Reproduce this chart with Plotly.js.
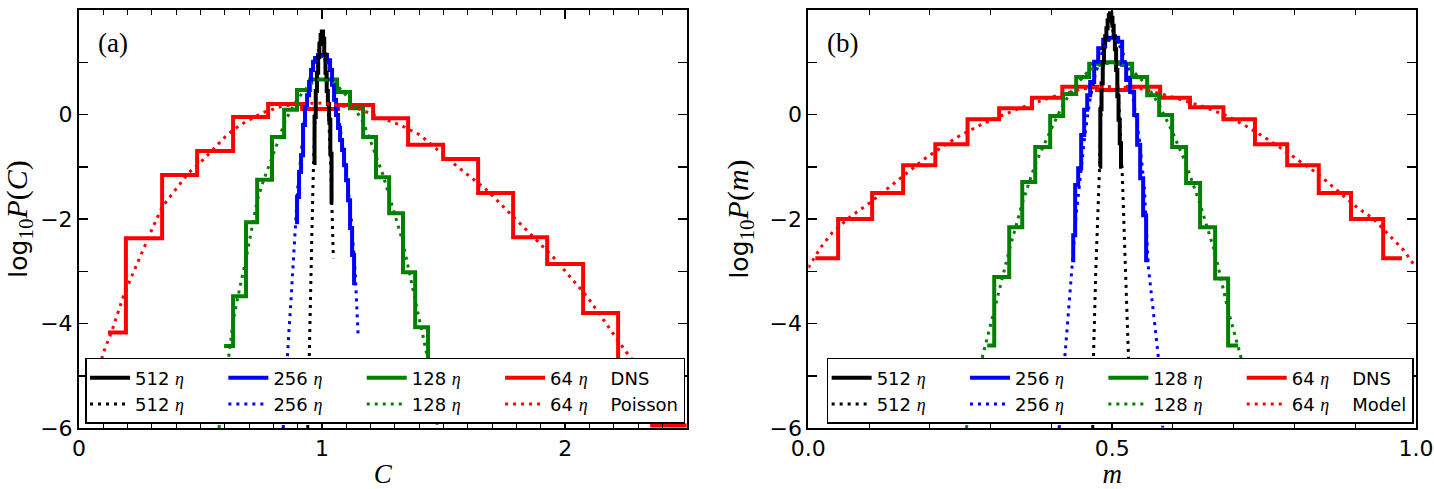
<!DOCTYPE html>
<html><head><meta charset="utf-8">
<script src="https://cdn.plot.ly/plotly-3.0.1.min.js"></script>
<style>html,body{margin:0;padding:0;background:#fff}</style>
</head><body>
<div id="chart" style="width:1434px;height:489px"></div>
<script>
// ---------- Panel (a): C ----------
var blackC_edges = [0.964,0.969,0.974,0.979,0.984,0.989,0.994,0.999,1.004,1.009,1.014,1.019,1.024,1.029,1.034,1.039,1.042];
var blackC_vals  = [-0.93,-0.05,0.45,0.8,1.1,1.35,1.52,1.59,1.45,1.15,0.8,0.45,0.2,-0.1,-0.75,-1.68];
var blackModC_x  = [0.941,0.9465,0.951,0.958,0.9642,0.975,0.99,0.999,1.01,1.025,1.036,1.040,1.0465];
var blackModC_y  = [-6.0,-4.57,-3.6,-2.3,-1.06,0.5,1.4,1.59,1.2,0.2,-1.0,-1.70,-2.75];

var blueC_edges = [0.8889,0.8971,0.9053,0.9136,0.9218,0.9300,0.9383,0.9465,0.9547,0.9630,0.9712,0.9835,1.0206,1.0329,1.0412,1.0494,1.0576,1.0658,1.0741,1.0823,1.0905,1.0988,1.1070,1.1152,1.1235,1.1317,1.1399];
var blueC_vals  = [-2.06,-1.58,-1.10,-0.78,-0.20,0.18,0.37,0.62,0.85,1.01,1.08,1.14,1.04,0.85,0.57,0.28,-0.01,-0.26,-0.49,-0.68,-0.97,-1.26,-1.64,-2.17,-2.69,-3.23];
var blueModC_x  = [0.84,0.848,0.856,0.864,0.872,0.881,0.889,0.90,0.915,0.93,0.95,0.97,1.0,1.03,1.06,1.08,1.10,1.12,1.136,1.142,1.148];
var blueModC_y  = [-6.0,-5.3,-4.61,-4.13,-3.56,-2.79,-2.17,-1.4,-0.7,0.05,0.65,1.0,1.12,0.95,0.2,-0.45,-1.1,-2.0,-3.0,-3.6,-4.19];

var greenC_edges = [0.597,0.634,0.687,0.733,0.794,0.844,0.897,0.951,1.062,1.115,1.169,1.222,1.276,1.333,1.383,1.436,1.490];
var greenC_vals  = [-4.43,-3.48,-2.06,-1.25,-0.43,0.09,0.47,0.67,0.43,0.12,-0.43,-1.20,-1.89,-3.02,-4.07,-5.2];
var greenModC_x  = [0.576,0.597,0.617,0.634,0.66,0.687,0.71,0.733,0.76,0.794,0.82,0.844,0.87,0.897,0.925,0.951,0.98,1.005,1.03,1.062,1.09,1.115,1.14,1.169,1.195,1.222,1.25,1.276,1.305,1.333,1.358,1.383,1.41,1.436,1.456,1.476];
var greenModC_y  = [-6.0,-5.2,-4.6,-3.95,-3.35,-2.77,-2.2,-1.65,-1.25,-0.84,-0.5,-0.17,0.07,0.28,0.45,0.58,0.66,0.68,0.64,0.55,0.42,0.27,0.07,-0.15,-0.45,-0.8,-1.15,-1.55,-2.0,-2.45,-3.0,-3.55,-4.1,-4.7,-5.3,-6.0];

var redC_edges = [0.119,0.193,0.342,0.486,0.634,0.778,0.918,1.066,1.210,1.354,1.498,1.642,1.786,1.926,2.074,2.218,2.358,2.502];
var redC_vals  = [-4.17,-2.37,-1.16,-0.70,-0.05,0.20,0.105,0.18,-0.07,-0.58,-0.85,-1.50,-2.35,-2.86,-3.80,-4.90,-5.95];
var poisC_x = [0.033,0.099,0.136,0.160,0.181,0.210,0.239,0.259,0.284,0.300,0.342,0.403,0.45,0.510,0.609,0.663,0.753,0.835,0.92,1.004,1.144,1.247,1.321,1.403,1.539,1.679,1.802,1.951,2.091,2.198,2.255,2.35,2.477];
var poisC_y = [-5.87,-4.57,-4.13,-3.78,-3.50,-3.17,-2.86,-2.62,-2.36,-2.20,-1.77,-1.39,-1.12,-0.87,-0.39,-0.20,0.03,0.16,0.21,0.22,0.12,-0.07,-0.20,-0.39,-0.93,-1.45,-2.02,-2.73,-3.49,-4.19,-4.57,-5.1,-5.85];

// ---------- Panel (b): m ----------
var blackM_edges = [0.4785,0.4805,0.4825,0.4845,0.4865,0.4885,0.4905,0.4925,0.4945,0.4965,0.4985,0.5005,0.5025,0.5045,0.5065,0.5085,0.5105,0.5125,0.5145,0.5165];
var blackM_vals  = [-1.0,0.1,0.6,1.0,1.3,1.5,1.65,1.8,1.9,1.94,1.85,1.7,1.5,1.25,0.85,0.35,-0.1,-0.55,-1.0];
var blackModM_x  = [0.468,0.4693,0.473,0.4791,0.482,0.487,0.4967,0.506,0.512,0.5164,0.522,0.5268,0.529];
var blackModM_y  = [-6.0,-4.61,-3.0,-1.06,0.28,1.3,1.94,1.24,-0.04,-1.06,-3.0,-4.61,-6.0];

var blueM_edges = [0.4326,0.4359,0.4391,0.4441,0.4490,0.4539,0.4589,0.4638,0.4704,0.4770,0.4852,0.4934,0.5016,0.5099,0.5164,0.5230,0.5296,0.5362,0.5411,0.5461,0.5510,0.5559,0.5609];
var blueM_vals  = [-2.79,-2.31,-1.35,-1.03,-0.39,0.09,0.37,0.62,1.01,1.27,1.43,1.47,1.47,1.39,0.95,0.66,0.43,-0.01,-0.58,-1.22,-1.93,-2.79];
var blueModM_x  = [0.4128,0.4227,0.4342,0.44,0.447,0.455,0.463,0.472,0.482,0.492,0.500,0.508,0.517,0.527,0.536,0.545,0.553,0.5592,0.5757,0.5832];
var blueModM_y  = [-6.0,-4.61,-2.88,-2.0,-1.2,-0.4,0.25,0.75,1.15,1.4,1.47,1.42,1.2,0.8,0.2,-0.5,-1.4,-2.88,-4.61,-5.99];

var greenM_edges = [0.2944,0.3059,0.3306,0.3520,0.3734,0.3980,0.4194,0.4408,0.4622,0.4852,0.5099,0.5329,0.5576,0.5773,0.5987,0.6217,0.6447,0.6694,0.6908,0.7072];
var greenM_vals  = [-4.42,-3.11,-2.16,-1.29,-0.62,-0.03,0.39,0.72,0.97,1.0,0.97,0.72,0.37,-0.01,-0.62,-1.31,-2.16,-3.14,-4.42];
var greenModM_x  = [0.26,0.273,0.286,0.3059,0.3306,0.352,0.3734,0.398,0.4194,0.4408,0.4622,0.485,0.50,0.515,0.5329,0.5576,0.5773,0.5987,0.6217,0.6447,0.6694,0.6908,0.711,0.722,0.735];
var greenModM_y  = [-6.0,-5.3,-4.66,-3.75,-2.6,-1.7,-0.95,-0.32,0.2,0.57,0.85,0.97,0.99,0.96,0.85,0.55,0.18,-0.32,-0.95,-1.72,-2.65,-3.75,-4.6,-5.2,-5.95];

var redM_edges = [0.0115,0.049,0.105,0.156,0.209,0.262,0.314,0.368,0.418,0.475,0.526,0.579,0.628,0.683,0.735,0.788,0.840,0.893,0.946,0.977];
var redM_vals  = [-2.75,-2.00,-1.50,-0.97,-0.57,-0.09,0.12,0.32,0.53,0.47,0.53,0.32,0.14,-0.09,-0.57,-0.97,-1.50,-2.00,-2.75];
var modelM_x = [0.0,0.02,0.04,0.07,0.10,0.13,0.16,0.19,0.22,0.25,0.28,0.31,0.35,0.40,0.45,0.50,0.55,0.60,0.65,0.69,0.72,0.75,0.78,0.81,0.84,0.87,0.90,0.93,0.96,0.98,1.0];
var modelM_y = [-2.93,-2.55,-2.25,-1.95,-1.70,-1.42,-1.13,-0.86,-0.62,-0.40,-0.22,-0.06,0.13,0.33,0.49,0.54,0.49,0.33,0.15,-0.03,-0.22,-0.43,-0.66,-0.90,-1.15,-1.45,-1.75,-2.00,-2.35,-2.60,-2.93];

var sizeLabels = ['512','256','128','64'];
var colors = ['#000000','#0000ff','#008000','#ff0000'];

function stepXY(edges, vals){ return {x: edges, y: vals.concat([vals[vals.length-1]])}; }
var ETA = ' <span style="font-family:\'Liberation Serif\'"><i>η</i></span>';
var PAD = '&nbsp;&nbsp;&nbsp;&nbsp;&nbsp;&nbsp;';
var GAP = '&nbsp;&nbsp;&nbsp; ';

function panelTraces(xa, ya, leg, steps, models, lastSolid, lastDot, suffix){
  var tr = [];
  for (var i = 3; i >= 0; i--) {
    var s = stepXY(steps[i][0], steps[i][1]);
    tr.push({x:s.x, y:s.y, xaxis:xa, yaxis:ya, legend:leg, mode:'lines', type:'scatter',
      line:{shape:'hv', color:colors[i], width:4},
      name: sizeLabels[i] + ETA + (i===3 ? GAP + lastSolid : PAD),
      legendgroup:'g'+i+suffix, legendrank: 2*i+1, hoverinfo:'skip'});
  }
  for (var j = 3; j >= 0; j--) {
    tr.push({x:models[j][0], y:models[j][1], xaxis:xa, yaxis:ya, legend:leg, mode:'lines', type:'scatter',
      line:{color:colors[j], width:3, dash:'3px,5px'},
      name: sizeLabels[j] + ETA + (j===3 ? GAP + lastDot : PAD),
      legendgroup:'g'+j+suffix, legendrank: 2*j+2, hoverinfo:'skip'});
  }
  return tr;
}

var traces = panelTraces('x','y','legend',
  [[blackC_edges,blackC_vals],[blueC_edges,blueC_vals],[greenC_edges,greenC_vals],[redC_edges,redC_vals]],
  [[blackModC_x,blackModC_y],[blueModC_x,blueModC_y],[greenModC_x,greenModC_y],[poisC_x,poisC_y]],
  'DNS', 'Poisson', 'a').concat(
  panelTraces('x2','y2','legend2',
  [[blackM_edges,blackM_vals],[blueM_edges,blueM_vals],[greenM_edges,greenM_vals],[redM_edges,redM_vals]],
  [[blackModM_x,blackModM_y],[blueModM_x,blueModM_y],[greenModM_x,greenModM_y],[modelM_x,modelM_y]],
  'DNS', 'Model', 'b'));

var tickFont = {family:'DejaVu Sans', size:22, color:'#000'};
function xax(domain, range, dtick, fmt, title){
  return {domain:domain, range:range, dtick:dtick, tick0:0, tickformat:fmt, ticks:'inside', ticklen:9, tickwidth:1.5,
    tickcolor:'#000', showline:true, linewidth:2, linecolor:'#000', mirror:'ticks', showgrid:false, zeroline:false,
    minor:{dtick:0.1, tick0:0, ticks:'inside', ticklen:4.5, tickwidth:1, tickcolor:'#000', showgrid:false},
    tickfont:tickFont, title:{text:title, font:{family:'Liberation Serif', size:27, color:'#000'}, standoff:14}};
}
function yax(anchor, title){
  return {anchor:anchor, range:[-6,2], dtick:2, tick0:-6, tickformat:'d',
    ticks:'inside', ticklen:9, tickwidth:1.5, tickcolor:'#000', showline:true, linewidth:2, linecolor:'#000',
    minor:{dtick:1, tick0:-6, ticks:'inside', ticklen:9, tickwidth:1.5, tickcolor:'#000', showgrid:false},
    mirror:'ticks', showgrid:false, zeroline:false, tickfont:tickFont,
    title:{text:title, font:{family:'Liberation Serif', size:30, color:'#000'}, standoff:12}};
}
function legendCfg(x){
  return {x:x, y:0.1675, xanchor:'left', yanchor:'top', orientation:'h', traceorder:'grouped',
    bordercolor:'#000', borderwidth:1.5, bgcolor:'#fff', font:{family:'DejaVu Sans', size:18, color:'#000'},
    itemwidth:40, tracegroupgap:0};
}
var logSpan = '<span style="font-family:\'DejaVu Sans\';font-size:25px">log</span><sub>10</sub>';
var layout = {
  width:1434, height:489, margin:{l:79, r:18, t:10, b:61},
  paper_bgcolor:'#fff', plot_bgcolor:'#fff', showlegend:true,
  xaxis: xax([0,0.4545],[0,2.5],1,'d','<i>C</i>'),
  xaxis2: xax([0.5455,1],[0,1],0.5,'.1f','<i>m</i>'),
  yaxis: yax('x', logSpan + '<i>P</i>(<i>C</i>)'),
  yaxis2: yax('x2', logSpan + '<i>P</i>(<i>m</i>)'),
  legend: legendCfg(0.0045),
  legend2: legendCfg(0.5592),
  annotations:[
    {xref:'x', yref:'y', x:0.14, y:1.37, text:'(a)', showarrow:false, font:{family:'Liberation Serif', size:27, color:'#000'}},
    {xref:'x2', yref:'y2', x:0.056, y:1.37, text:'(b)', showarrow:false, font:{family:'Liberation Serif', size:27, color:'#000'}}
  ]
};
Plotly.newPlot('chart', traces, layout, {displayModeBar:false, staticPlot:true});
</script>
</body></html>
